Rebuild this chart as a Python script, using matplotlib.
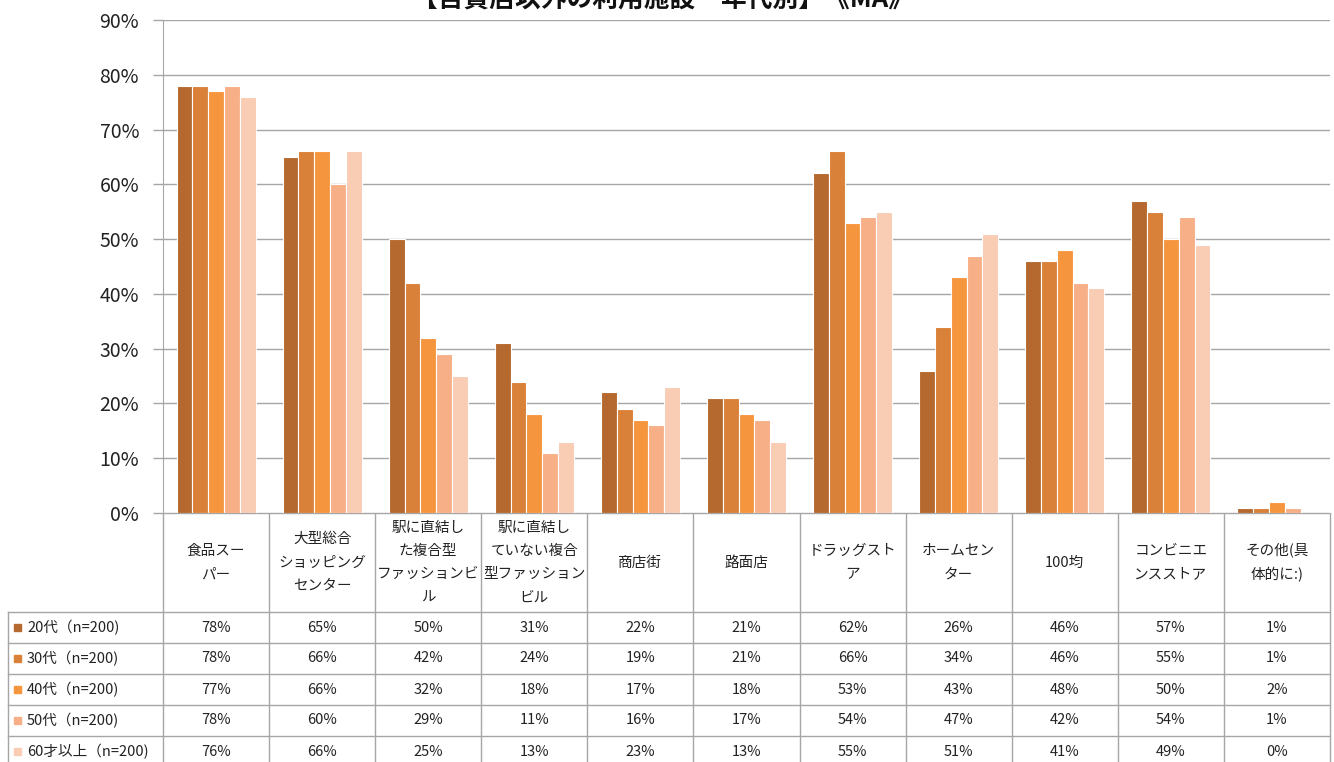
import matplotlib
matplotlib.use("Agg")
import matplotlib.pyplot as plt
from matplotlib.patches import Rectangle
from matplotlib.ticker import PercentFormatter

plt.rcParams['font.family'] = ['Noto Sans CJK JP', 'DejaVu Sans']

# --- data ---
categories = [
    "食品スー\nパー",
    "大型総合\nショッピング\nセンター",
    "駅に直結し\nた複合型\nファッションビ\nル",
    "駅に直結し\nていない複合\n型ファッション\nビル",
    "商店街",
    "路面店",
    "ドラッグスト\nア",
    "ホームセン\nター",
    "100均",
    "コンビニエ\nンスストア",
    "その他(具\n体的に:)",
]
age_groups = ["20代（n=200)", "30代（n=200)", "40代（n=200)", "50代（n=200)", "60才以上（n=200)"]

age20 = [78, 65, 50, 31, 22, 21, 62, 26, 46, 57, 1]
age30 = [78, 66, 42, 24, 19, 21, 66, 34, 46, 55, 1]
age40 = [77, 66, 32, 18, 17, 18, 53, 43, 48, 50, 2]
age50 = [78, 60, 29, 11, 16, 17, 54, 47, 42, 54, 1]
age60 = [76, 66, 25, 13, 23, 13, 55, 51, 41, 49, 0]
series = [age20, age30, age40, age50, age60]

colors = ["#B5692F", "#D98039", "#F5963F", "#F7AF88", "#F9CCB4"]
title = "【百貨店以外の利用施設　年代別】《MA》"

# --- layout (pixels) ---
W, H = 1334, 762
plot_l, plot_r = 163, 1330
plot_top, plot_bot = 20, 513
grid_col = "#A6A6A6"
text_col = "#222222"

fig = plt.figure(figsize=(W / 100, H / 100), dpi=100)
ax = fig.add_axes([plot_l / W, (H - plot_bot) / H,
                   (plot_r - plot_l) / W, (plot_bot - plot_top) / H])

n = len(categories)
bw = 0.149
for j, vals in enumerate(series):
    xs = [i + (j - 2) * bw for i in range(n)]
    ax.bar(xs, [v / 100 for v in vals], width=bw, color=colors[j],
           edgecolor="white", linewidth=0.8, zorder=3)

ax.set_xlim(-0.5, n - 0.5)
ax.set_ylim(0, 0.9)
ax.set_yticks([i / 10 for i in range(10)])
ax.yaxis.set_major_formatter(PercentFormatter(1.0, decimals=0))
ax.tick_params(axis="y", labelsize=14, length=7.2, width=1, color=grid_col,
               pad=10, labelcolor=text_col)
ax.set_xticks([])
ax.grid(axis="y", color=grid_col, linewidth=1, zorder=0)
for s in ["top", "right", "bottom"]:
    ax.spines[s].set_visible(False)
ax.spines["left"].set_color(grid_col)

fig.text(0.497, (H - 7) / H, title, ha="center", va="baseline",
         fontsize=18.5, fontweight="bold", color="#111111")

# --- data table under the plot ---
tab = fig.add_axes([0, 0, 1, (H - plot_bot) / H])
tab.set_xlim(0, W)
tab.set_ylim(H, plot_bot)
tab.axis("off")

col_w = (plot_r - plot_l) / n
head_bot = 612
row_h = 31
label_l = 8
line_kw = dict(color=grid_col, linewidth=1)

# horizontal lines
tab.plot([plot_l, plot_r], [plot_bot, plot_bot], **line_kw)
for r in range(len(age_groups)):
    y = head_bot + r * row_h
    tab.plot([label_l, plot_r], [y, y], **line_kw)
# vertical lines
for i in range(n + 1):
    x = plot_l + i * col_w
    tab.plot([x, x], [plot_bot, H], **line_kw)
tab.plot([label_l, label_l], [head_bot, H], **line_kw)

# header cells
for i, cat in enumerate(categories):
    tab.text(plot_l + (i + 0.5) * col_w, (plot_bot + head_bot) / 2, cat,
             ha="center", va="center", fontsize=10.5, linespacing=1.85,
             color=text_col)

# value rows
for r, (name, vals) in enumerate(zip(age_groups, series)):
    yc = head_bot + (r + 0.5) * row_h
    tab.add_patch(Rectangle((14, yc - 3.5), 7, 7, color=colors[r]))
    tab.text(27, yc, name, ha="left", va="center", fontsize=10.5,
             color=text_col)
    for i, v in enumerate(vals):
        tab.text(plot_l + (i + 0.5) * col_w, yc, f"{v}%", ha="center",
                 va="center", fontsize=10.5, color=text_col)

fig.savefig("out.png", dpi=100)
